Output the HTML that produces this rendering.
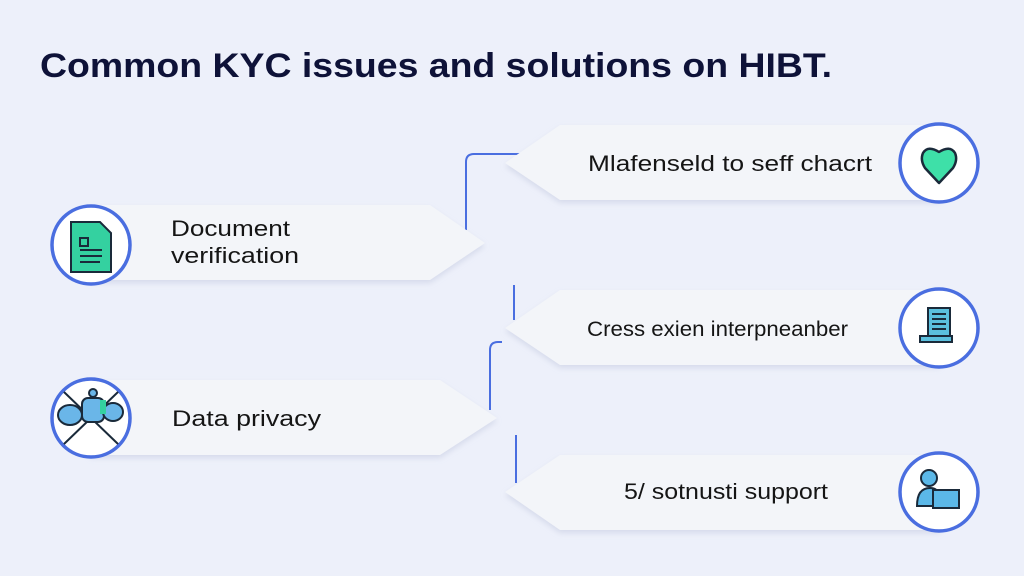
<!DOCTYPE html>
<html><head><meta charset="utf-8"><style>
html,body{margin:0;padding:0;background:#edf0fa;}
svg{display:block}
text{font-family:"Liberation Sans","DejaVu Sans",sans-serif;fill:#151515}
</style></head><body>
<svg width="1024" height="576" viewBox="0 0 1024 576" xmlns="http://www.w3.org/2000/svg">
<defs>
<filter id="sh" x="-10%" y="-20%" width="120%" height="150%"><feDropShadow dx="0" dy="3" stdDeviation="3" flood-color="#aab3d0" flood-opacity="0.35"/></filter>
</defs>
<rect width="1024" height="576" fill="#edf0fa"/>
<text x="40" y="77" font-size="34" font-weight="bold" style="fill:#0e1238" textLength="792" lengthAdjust="spacingAndGlyphs">Common KYC issues and solutions on HIBT.</text>

<g fill="none" stroke="#4a6ee0" stroke-width="2">
<path d="M466 230 V162 Q466 154 474 154 H520"/>
<path d="M514 285 V320"/>
<path d="M490 410 V350 Q490 342 498 342 H502"/>
<path d="M516 435 V483"/>
</g>

<g filter="url(#sh)" fill="#f3f5f9">
<path d="M90 205 H430 L485 243 L430 280 H90 Z"/>
<path d="M90 380 H440 L497 418 L440 455 H90 Z"/>
<path d="M940 125 H560 L505 163 L560 200 H940 Z"/>
<path d="M940 290 H560 L505 328 L560 365 H940 Z"/>
<path d="M940 455 H560 L505 492 L560 530 H940 Z"/>
</g>

<text x="171" y="236" font-size="22" textLength="119" lengthAdjust="spacingAndGlyphs">Document</text>
<text x="171" y="263" font-size="22" textLength="128" lengthAdjust="spacingAndGlyphs">verification</text>
<text x="172" y="426" font-size="22" textLength="149" lengthAdjust="spacingAndGlyphs">Data privacy</text>
<text x="588" y="171" font-size="22" textLength="284" lengthAdjust="spacingAndGlyphs">Mlafenseld to seff chacrt</text>
<text x="587" y="336" font-size="21" textLength="261" lengthAdjust="spacingAndGlyphs">Cress exien interpneanber</text>
<text x="624" y="499" font-size="22" textLength="204" lengthAdjust="spacingAndGlyphs">5/ sotnusti support</text>

<g fill="#fff" stroke="#4a6ee0" stroke-width="3.5">
<circle cx="91" cy="245" r="39"/>
<circle cx="91" cy="418" r="39"/>
<circle cx="939" cy="163" r="39"/>
<circle cx="939" cy="328" r="39"/>
<circle cx="939" cy="492" r="39"/>
</g>

<path d="M71 222 H100 L111 233 V272 H71 Z" fill="#34d1a0" stroke="#1a2a3a" stroke-width="2"/>
<path d="M80 238 H88 V246 H80 Z M80 250 H102 M80 256 H102 M80 262 H100" stroke="#1a2a3a" stroke-width="2" fill="none"/>

<g stroke="#1a2a3a" stroke-width="2">
<line x1="64" y1="392" x2="118" y2="444"/><line x1="118" y1="392" x2="64" y2="444"/>
<ellipse cx="70" cy="415" rx="12" ry="10" fill="#6ab6e8"/>
<rect x="82" y="398" width="22" height="24" rx="6" fill="#6ab6e8"/>
<ellipse cx="113" cy="412" rx="10" ry="9" fill="#6ab6e8"/>
<rect x="100" y="400" width="6" height="14" fill="#34d1a0" stroke="none"/>
<circle cx="93" cy="393" r="4" fill="#6ab6e8"/>
</g>

<path d="M939 183 L925 168 Q920 160 923 153 Q928 145 939 152 Q950 145 955 153 Q958 160 953 168 Z" fill="#3ee0a8" stroke="#1a2a3a" stroke-width="2.5" stroke-linejoin="round"/>

<g stroke="#1a2a3a" stroke-width="2">
<rect x="928" y="308" width="22" height="28" fill="#5bc0de"/>
<path d="M932 314 H946 M932 319 H946 M932 324 H946 M932 329 H946"/>
<rect x="920" y="336" width="32" height="6" fill="#5bc0de"/>
</g>

<g stroke="#1a2a3a" stroke-width="2">
<circle cx="929" cy="478" r="8" fill="#5bb8e8"/>
<path d="M917 506 Q917 488 930 488 Q938 488 940 496 V506 Z" fill="#5bb8e8"/>
<rect x="933" y="490" width="26" height="18" fill="#5bb8e8"/>
</g>
</svg>
</body></html>
